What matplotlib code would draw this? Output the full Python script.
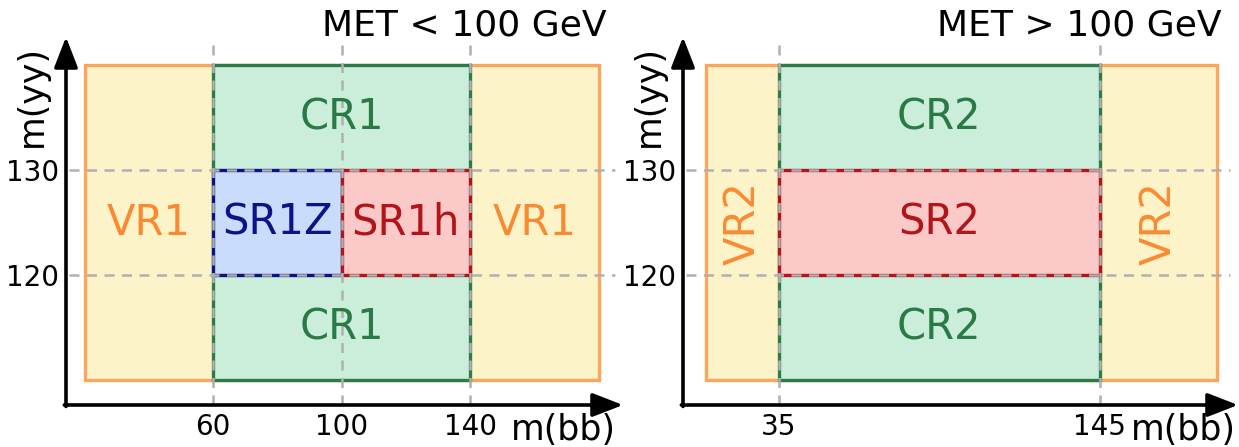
import matplotlib
matplotlib.use('Agg')
from matplotlib import pyplot as plt
from matplotlib.patches import Rectangle

# region edges in m(bb) and m(yy)
low_bb_edges = [20, 60, 100, 140, 180]
high_bb_edges = [10, 35, 145, 185]
yy_edges = [110, 120, 130, 140]

low_xticks = [60, 100, 140]
high_xticks = [35, 145]
yticks = [120, 130]

orange_fill, orange_edge, orange_text = '#fdf3c9', '#fba55e', '#fa8a32'
green_fill, green_edge, green_text = '#cbeedb', '#2e7b48', '#2a7a45'
blue_fill, blue_edge, blue_text = '#c9dcfb', '#0c1288', '#0c1288'
red_fill, red_edge, red_text = '#fcc9c9', '#b3141a', '#b3141a'
grey = '#b0b0b0'

fig = plt.figure(figsize=(12.39, 4.47), dpi=100)
ax1 = fig.add_axes([66/1239, 1-405/447, (623-66)/1239, (405-37)/447])
ax2 = fig.add_axes([683/1239, 1-405/447, (1238-683)/1239, (405-37)/447])
ax1.set_xlim(14.2, 187.6)
ax2.set_xlim(2.2, 192.3)
for ax in (ax1, ax2):
    ax.set_ylim(107.6, 142.7)


def box(ax, x0, x1, y0, y1, fc, ec, ls='-'):
    ax.add_patch(Rectangle((x0, y0), x1-x0, y1-y0, facecolor=fc, edgecolor=ec,
                           lw=2.4, linestyle=ls, zorder=2))


def frame(ax, xticks, title, xlab_right):
    for s in ax.spines.values():
        s.set_visible(False)
    ax.set_xticks(xticks)
    ax.set_xticklabels([str(t) for t in xticks])
    ax.set_yticks(yticks)
    ax.set_yticklabels([str(t) for t in yticks])
    ax.tick_params(length=0, pad=6, labelsize=20)
    ax.tick_params(axis='y', pad=5)
    arrow = dict(arrowstyle='-|>,head_length=0.85,head_width=0.33', lw=2.6,
                 color='black', mutation_scale=22, shrinkA=0, shrinkB=0)
    ax.annotate('', xy=(1, 0), xytext=(-0.003, 0), xycoords='axes fraction',
                arrowprops=arrow, zorder=6)
    ax.annotate('', xy=(0, 1), xytext=(0, -0.004), xycoords='axes fraction',
                arrowprops=arrow, zorder=6)
    for y in yticks:
        ax.axhline(y, xmin=0.005, xmax=0.985, color=grey, lw=1.8,
                   linestyle=(0, (4, 3)), zorder=4)
    for x in xticks:
        ax.axvline(x, ymin=0, ymax=0.985, color=grey, lw=1.8,
                   linestyle=(0, (4, 3)), zorder=4)
    ax.text(0.97, 1.03, title, transform=ax.transAxes, fontsize=26,
            ha='right', va='center')
    ax.text(-0.062, 0.84, 'm(yy)', transform=ax.transAxes, fontsize=25,
            rotation=90, ha='center', va='center')
    ax.text(xlab_right, -0.068, 'm(bb)', transform=ax.transAxes, fontsize=25,
            ha='right', va='center')


lab = dict(fontsize=30, ha='center', va='center', zorder=5)
mid = (yy_edges[1] + yy_edges[2]) / 2

# MET < 100 GeV
e = low_bb_edges
box(ax1, e[0], e[-1], yy_edges[0], yy_edges[-1], orange_fill, orange_edge)
box(ax1, e[1], e[3], yy_edges[0], yy_edges[-1], green_fill, green_edge)
box(ax1, e[1], e[2], yy_edges[1], yy_edges[2], blue_fill, blue_edge)
box(ax1, e[2], e[3], yy_edges[1], yy_edges[2], red_fill, red_edge)
frame(ax1, low_xticks, 'MET < 100 GeV', 0.988)
ax1.text((e[0]+e[1])/2, mid, 'VR1', color=orange_text, **lab)
ax1.text((e[3]+e[4])/2, mid, 'VR1', color=orange_text, **lab)
ax1.text((e[1]+e[2])/2, mid, 'SR1Z', color=blue_text, **lab)
ax1.text((e[2]+e[3])/2, mid, 'SR1h', color=red_text, **lab)
ax1.text((e[1]+e[3])/2, (yy_edges[2]+yy_edges[3])/2, 'CR1', color=green_text, **lab)
ax1.text((e[1]+e[3])/2, (yy_edges[0]+yy_edges[1])/2, 'CR1', color=green_text, **lab)

# MET > 100 GeV
e = high_bb_edges
box(ax2, e[0], e[-1], yy_edges[0], yy_edges[-1], orange_fill, orange_edge)
box(ax2, e[1], e[2], yy_edges[0], yy_edges[-1], green_fill, green_edge)
box(ax2, e[1], e[2], yy_edges[1], yy_edges[2], red_fill, red_edge)
frame(ax2, high_xticks, 'MET > 100 GeV', 0.997)
ax2.text((e[0]+e[1])/2, mid, 'VR2', color=orange_text, rotation=90, **lab)
ax2.text((e[2]+e[3])/2, mid, 'VR2', color=orange_text, rotation=90, **lab)
ax2.text((e[1]+e[2])/2, mid, 'SR2', color=red_text, **lab)
ax2.text((e[1]+e[2])/2, (yy_edges[2]+yy_edges[3])/2, 'CR2', color=green_text, **lab)
ax2.text((e[1]+e[2])/2, (yy_edges[0]+yy_edges[1])/2, 'CR2', color=green_text, **lab)

fig.savefig('out.png', dpi=100)
